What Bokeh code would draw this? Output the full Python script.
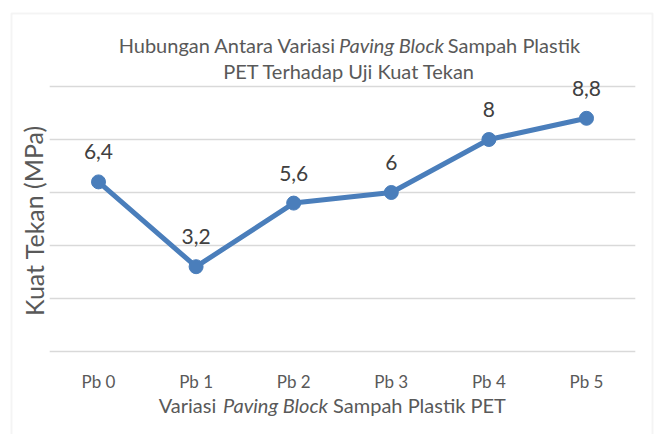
from bokeh.plotting import figure
from bokeh.models import ColumnDataSource, Range1d, Label, LabelSet, BoxAnnotation
from bokeh.core.properties import value
from bokeh.embed import file_html
from bokeh.resources import INLINE

categories = ["Pb 0", "Pb 1", "Pb 2", "Pb 3", "Pb 4", "Pb 5"]
kuat_tekan = [6.4, 3.2, 5.6, 6.0, 8.0, 8.8]
y_ticks = [0, 2, 4, 6, 8, 10]
labels = [("%g" % v).replace(".", ",") for v in kuat_tekan]

FONT = "Lato"
GREY = "#595959"
BLUE = "#4a7ebb"

W, H = 655, 434
# pixel geometry of the plot area (canvas px)
X0, DX = 98.0, 97.6      # centre of first category, width of a category band
Y0, DY = 351.0, 26.5     # canvas y of value 0, px per unit

def X(px):
    return (px - X0) / DX

def Y(py):
    return (Y0 - py) / DY

idx = list(range(len(categories)))
src = ColumnDataSource(dict(x=idx, y=kuat_tekan, lbl=labels, cat=categories, zero=[0] * len(idx)))

p = figure(width=W, height=H, output_backend="svg", toolbar_location=None,
           x_range=Range1d(X(0), X(W)), y_range=Range1d(Y(H), Y(0)),
           x_axis_location=None, y_axis_location=None, min_border=0)
p.outline_line_color = None
p.background_fill_color = "white"
p.border_fill_color = "white"
p.grid.visible = False

# horizontal gridlines across the category bands
grid = ColumnDataSource(dict(x0=[-0.5] * len(y_ticks), x1=[len(categories) - 0.5] * len(y_ticks), y=y_ticks))
p.segment(x0="x0", x1="x1", y0="y", y1="y", source=grid, line_color="#d9d9d9", line_width=1.5)

p.line("x", "y", source=src, line_color=BLUE, line_width=5)
p.scatter("x", "y", source=src, size=14, fill_color=BLUE, line_color=BLUE)

# data labels
p.add_layout(LabelSet(x="x", y="y", text="lbl", source=src, y_offset=30,
                      text_align="center", text_baseline="middle",
                      text_font=value(FONT), text_font_size=value("21px"), text_color="#404040"))
# category labels
p.add_layout(LabelSet(x="x", y="zero", text="cat", source=src, y_offset=-30,
                      text_align="center", text_baseline="middle",
                      text_font=value(FONT), text_font_size=value("17px"), text_color=GREY))

def add_text(t, px, py, size, style="normal", angle=0):
    p.add_layout(Label(x=X(px), y=Y(py), text=t, angle=angle,
                       text_align="center", text_baseline="middle",
                       text_font=FONT, text_font_size=size, text_font_style=style,
                       text_color=GREY))

# chart title (two lines, mixed italic)
add_text("Hubungan Antara Variasi", 227, 44, "20px")
add_text("Paving Block", 391, 44, "20px", "italic")
add_text("Sampah Plastik", 513.5, 44, "20px")
add_text("PET Terhadap Uji Kuat Tekan", 349, 70, "20px")

# x axis title
add_text("Variasi", 187, 404, "20px")
add_text("Paving Block", 275, 404, "20px", "italic")
add_text("Sampah Plastik PET", 419, 404, "20px")

# y axis title
add_text("Kuat Tekan (MPa)", 33, 220, "25px", angle=1.5708)

# chart area border
p.add_layout(BoxAnnotation(left=X(11), right=X(652), top=Y(13), bottom=Y(H + 40),
                           fill_color=None, line_color="#d9d9d9", line_width=2))

open("out.html", "w").write(file_html(p, INLINE))
